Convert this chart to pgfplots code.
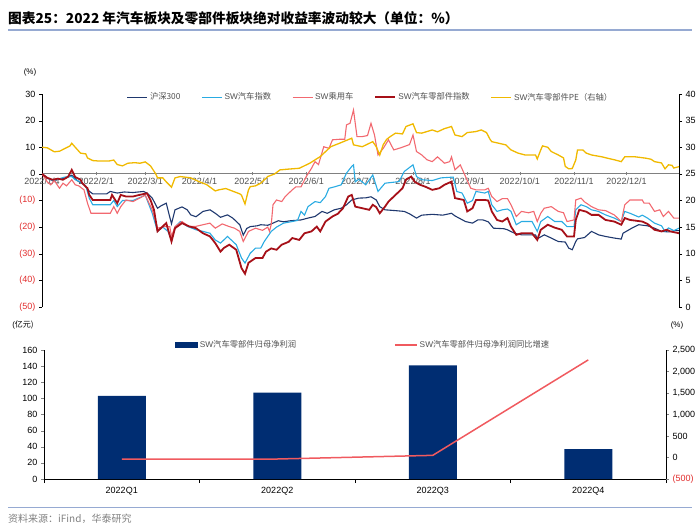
\documentclass[border=0pt]{standalone}
\usepackage{pgfplots}
\pgfplotsset{compat=1.18}
\usepackage{fontspec}
\setmainfont{Liberation Sans}
\newfontfamily\cjk{Noto Sans CJK SC}
\definecolor{hsblue}{RGB}{31,56,110}
\definecolor{autoblue}{RGB}{41,171,226}
\definecolor{carpink}{RGB}{242,105,112}
\definecolor{partred}{RGB}{166,16,24}
\definecolor{peyellow}{RGB}{240,185,0}
\definecolor{barblue}{RGB}{0,45,114}
\definecolor{growred}{RGB}{240,90,95}
\definecolor{negred}{RGB}{225,45,45}
\definecolor{ruleblue}{RGB}{150,170,210}
\definecolor{txtgray}{RGB}{80,80,80}
\newcommand{\lgtxt}[1]{\textcolor{txtgray}{#1}}
\begin{document}
\begin{tikzpicture}[x=1pt,y=1pt]
\path[use as bounding box] (0,0) rectangle (700,530);
% title
\node[anchor=west,inner sep=0pt,font=\fontsize{13.7}{15}\selectfont] at (8,512) {\cjk\bfseries 图表25：2022 年汽车板块及零部件板块绝对收益率波动较大（单位：\%）};
\draw[ruleblue,line width=1.2pt] (8,500) -- (692,500);
% footer
\draw[ruleblue,line width=0.8pt] (8,23) -- (692,23);
\node[anchor=west,inner sep=0pt,font=\fontsize{10}{12}\selectfont,text=gray] at (8,11) {\cjk 资料来源：iFind，华泰研究};
% unit labels
\node[font=\fontsize{8}{9}\selectfont] at (30,458) {(\%)};
\node[font=\fontsize{8}{9}\selectfont] at (23,205) {(\cjk 亿元)};
\node[font=\fontsize{8}{9}\selectfont] at (677,205) {(\%)};

% ---------- top chart ----------
\begin{axis}[at={(42pt,223pt)},anchor=south west,width=637pt,height=213pt,scale only axis,
  xmin=0,xmax=364,ymin=-50,ymax=30,
  axis x line*=middle, axis y line*=left,
  hide obscured x ticks=false, hide obscured y ticks=false,
  x axis line style={gray,line width=0.8pt},
  y axis line style={black,line width=0.6pt},
  xtick={0,31,59,90,120,151,181,212,243,273,304,334},
  xticklabels={2022/1/4,2022/2/1,2022/3/1,2022/4/1,2022/5/1,2022/6/1,2022/7/1,2022/8/1,2022/9/1,2022/10/1,2022/11/1,2022/12/1},
  x tick label style={font=\fontsize{9}{10}\selectfont,text=txtgray,yshift=1pt},
  x tick style={gray}, xtick align=center,
  ytick={-50,-40,-30,-20,-10,0,10,20,30},
  yticklabels={{\color{negred}(50)},{\color{negred}(40)},{\color{negred}(30)},{\color{negred}(20)},{\color{negred}(10)},0,10,20,30},
  y tick label style={font=\fontsize{9}{10}\selectfont},
  ytick align=outside, major tick length=3pt, y tick style={black},
  legend style={at={(0.133,0.985)},anchor=west,draw=none,fill=none,
    font=\fontsize{8.3}{9}\selectfont,inner sep=0pt,
    legend columns=5,/tikz/every even column/.append style={column sep=19pt}},
  legend image code/.code={\draw (0pt,0pt) -- (20pt,0pt);},
]
\addplot[hsblue,line width=1.1pt] coordinates {(0,0) (3,-1.5) (6,-2.5) (10,-2) (14,-1.5) (17,-0.5) (20,-2.5) (24,-4) (27,-6.5) (29,-7.5) (37,-7.5) (39,-6.6) (43,-7.2) (47,-6.8) (52,-7) (58,-6.6) (60,-7.2) (63,-9.1) (66,-12.9) (68,-12) (71,-11) (74,-18.8) (76,-13.5) (80,-12.4) (83,-13.5) (85,-15.4) (88,-16.1) (92,-14.1) (96,-13.5) (99,-14.8) (102,-16.3) (106,-15.4) (109,-16.6) (113,-19.1) (115,-23) (117,-20.5) (119,-19.8) (123,-19.5) (125,-19.1) (129,-19.3) (132,-18.5) (135,-17.6) (138,-18) (142,-17.6) (148,-17.3) (152,-16.6) (156,-16) (160,-14.1) (163,-14.8) (167,-13.5) (171,-12.9) (174,-11.6) (177,-9.8) (181,-9.1) (185,-9) (188,-8.6) (191,-9.8) (193,-12.3) (196,-13.5) (202,-13.8) (207,-14.1) (210,-15) (214,-16.6) (217,-15.5) (223,-15.2) (229,-15.5) (234,-14.8) (236,-15.8) (242,-17.9) (246,-18.5) (249,-17.3) (252,-17.3) (255,-18) (258,-20.4) (264,-20.6) (266,-21) (270,-22.3) (274,-22.9) (282,-22.9) (283,-24.4) (287,-22.9) (291,-24.1) (295,-25.4) (299,-25.6) (301,-27.9) (303,-28.5) (305,-25.4) (306,-24.4) (310,-23.9) (314,-21.6) (318,-22.9) (322,-23.5) (327,-24.1) (331,-24.5) (332,-22.3) (337,-20.4) (341,-19.1) (346,-19.5) (350,-20.4) (354,-21.6) (358,-21.8) (362,-21.3) (364,-21.3)};
\addlegendentry{\lgtxt{\cjk 沪深300}}
\addplot[autoblue,line width=1.1pt] coordinates {(0,0) (3,-1.5) (6,-2.5) (9,-2) (13,-1.2) (17,-1) (19,-2.2) (22,-3) (25,-4.5) (27,-9.1) (29,-11.6) (39,-11.6) (41,-10) (43,-12.3) (46,-10) (52,-10) (59,-8) (63,-14.8) (66,-21.6) (69,-20) (72,-21.6) (74,-24.8) (76,-20) (79,-17.9) (83,-19.7) (88,-21) (92,-21.6) (96,-22.3) (99,-24.8) (102,-26) (106,-23.5) (111,-26.6) (114,-31.6) (116,-33.5) (119,-29.8) (122,-27.9) (125,-27.9) (127,-25.4) (131,-21.6) (134,-20) (138,-18.5) (143,-17.9) (146,-17.5) (148,-14.1) (150,-15.5) (152,-12.3) (156,-10.4) (159,-10.8) (162,-8.5) (164,-5.4) (167,-4.9) (171,-4.1) (174,0.3) (177,2.8) (178,3.4) (179,-3) (181,-2) (185,-4.1) (189,-0.4) (192,-6.6) (196,-3.5) (204,-2.9) (207,0.9) (212,3.4) (214,-1) (217,-2.2) (223,-2.5) (228,-1.5) (235,-1.2) (237,-6.6) (240,-7.2) (243,-11) (246,-10) (248,-6.6) (253,-7.2) (255,-6.6) (257,-11.6) (260,-14.1) (263,-13.5) (266,-13.2) (268,-14.1) (271,-19.1) (274,-17.9) (280,-17.9) (281,-19.1) (283,-21.6) (285,-17.9) (289,-16) (293,-17.9) (297,-17.9) (300,-19.8) (304,-19.8) (305,-13.5) (308,-11.6) (311,-12.3) (314,-13.5) (318,-14.1) (322,-15.4) (327,-16.6) (331,-17.9) (333,-14.1) (336,-14.8) (341,-16.2) (343,-15.5) (346,-16.6) (350,-18.5) (354,-19.5) (356,-21.6) (358,-20.3) (361,-21.3) (364,-20.4)};
\addlegendentry{\lgtxt{SW\cjk 汽车指数}}
\addplot[carpink,line width=1.1pt] coordinates {(0,0) (3,-3) (5,-4.1) (7,-2.5) (10,-5.4) (12,-3.5) (14,-4.5) (17,-2.2) (19,-4.1) (21,-4.5) (24,-6) (26,-11) (28,-14.8) (39,-14.8) (41,-12.3) (43,-14.8) (45,-12.3) (48,-9.8) (52,-10.4) (59,-8) (63,-13.5) (66,-20.4) (70,-19.8) (73,-19.8) (74,-23.5) (76,-19.8) (80,-17.9) (84,-19.8) (88,-19.7) (92,-19.1) (96,-18.5) (99,-20.4) (103,-18.8) (107,-19.8) (110,-20.4) (113,-21.6) (115,-25.4) (118,-21.6) (122,-20.4) (126,-21.2) (129,-20) (130,-21.6) (131,-19) (132,-11.6) (134,-9.8) (137,-10.4) (139,-8.5) (143,-6) (145,-4.9) (148,-4.9) (151,-1) (154,2.1) (156,4.6) (158,3.5) (161,10.2) (164,9.6) (166,12.8) (170,13) (173,13) (174,18.4) (176,19) (178,24) (180,14) (183,14) (186,14.4) (188,19) (190,14.6) (192,7.1) (195,9.6) (198,12.8) (201,9) (205,9.8) (210,11) (212,14.6) (214,8.4) (217,7.1) (220,5.3) (223,4.6) (226,6.4) (230,4) (233,4.6) (234,6.4) (236,1.5) (239,3.4) (242,-1) (245,-5.4) (248,-6) (253,-6) (255,-5.4) (257,-8.5) (260,-10.4) (263,-9.3) (266,-9.3) (268,-11.6) (271,-16) (274,-14.1) (278,-14.6) (281,-14.1) (283,-17.9) (285,-14.8) (287,-12.9) (291,-12.3) (295,-14.1) (298,-14.6) (300,-17.9) (304,-17.3) (305,-9.8) (308,-9.1) (310,-10.5) (314,-12.3) (318,-13.5) (322,-13.8) (327,-15.4) (331,-17.9) (333,-11.6) (336,-9.8) (343,-9.8) (344,-11) (347,-11) (350,-14.1) (353,-13.5) (355,-16) (358,-14.1) (361,-16.6) (364,-16.6)};
\addlegendentry{\lgtxt{SW\cjk 乘用车}}
\addplot[partred,line width=1.8pt] coordinates {(0,0) (3,-1.5) (6,-2.2) (9,-1.8) (12,-2.2) (15,-1) (17,1.5) (19,-1.2) (22,-2.2) (23,-3.5) (26,-5.4) (27,-7.9) (29,-9.8) (39,-9.8) (40,-7.9) (43,-11) (45,-7.9) (48,-8.5) (52,-8.5) (55,-8) (60,-7.3) (62,-9.8) (64,-13.5) (66,-21.6) (69,-19.7) (71,-18.5) (74,-25.4) (76,-20.4) (80,-18.5) (84,-19.7) (88,-20.4) (92,-22.3) (96,-23.5) (99,-26) (102,-29.2) (104,-27.8) (107,-26.6) (111,-28.5) (114,-35.4) (116,-37.5) (118,-33.4) (122,-31.6) (126,-31.6) (128,-29.2) (131,-28) (134,-28.5) (137,-26.6) (141,-25.5) (143,-24.1) (147,-24.8) (150,-22.3) (154,-21.6) (157,-19.8) (159,-21.6) (162,-17.9) (166,-16) (169,-15) (172,-12.9) (175,-8.5) (177,-7.9) (179,-12.3) (183,-12.9) (187,-13.5) (189,-11.6) (191,-12.5) (193,-14.8) (196,-12.3) (198,-10.4) (202,-7.9) (206,-5.4) (208,-2.2) (211,-1) (213,-3) (216,-4.1) (219,-4.8) (223,-6) (227,-5.4) (230,-4.1) (234,-2.9) (236,-9.1) (241,-9.8) (243,-14.1) (246,-12.9) (248,-9.8) (253,-9.8) (255,-10) (257,-14.1) (260,-17.3) (263,-17.9) (266,-16.6) (268,-19.8) (271,-22.9) (274,-22.3) (280,-22.3) (283,-24.8) (285,-21) (289,-19.1) (293,-20.2) (297,-21) (300,-23.5) (304,-23.5) (305,-17.3) (307,-13.5) (311,-14.2) (314,-15.4) (318,-15.4) (322,-17.3) (327,-17.9) (331,-19.1) (333,-16.6) (336,-17.3) (343,-17.9) (346,-18.8) (350,-21) (354,-21.6) (357,-21) (359,-21.6) (364,-22.3)};
\addlegendentry{\lgtxt{SW\cjk 汽车零部件指数}}
\addlegendimage{peyellow,line width=1.3pt}
\addlegendentry{\lgtxt{SW\cjk 汽车零部件PE（右轴）}}
\end{axis}
\begin{axis}[at={(42pt,223pt)},anchor=south west,width=637pt,height=213pt,scale only axis,
  xmin=0,xmax=364,ymin=0,ymax=40,
  axis x line=none, axis y line*=right,
  y axis line style={black,line width=0.6pt},
  ytick={0,5,10,15,20,25,30,35,40},
  yticklabels={0,5,10,15,20,25,30,35,40},
  y tick label style={font=\fontsize{9}{10}\selectfont},
  ytick align=outside, major tick length=3pt, y tick style={black},
]
\addplot[peyellow,line width=1.3pt] coordinates {(0,30) (3,29.9) (7,29.15) (10,29.25) (13,29.75) (16,30.25) (17,30.75) (19,30) (22,28.9) (25,28.75) (26,28) (29,27.5) (33,27.4) (38,27.4) (41,27.6) (43,26.75) (46,26.5) (49,27) (53,27.1) (56,27) (59,27.25) (62,26.5) (65,25) (66,24.25) (69,24.25) (71,23.5) (74,22.5) (76,24.25) (79,24.5) (85,24.25) (90,23.5) (94,23) (99,21.8) (101,22) (105,22.25) (109,21.75) (113,21.25) (114,21) (116,19.35) (118,22) (119,22.6) (122,22.75) (125,23.25) (129,24.5) (133,25) (136,25.75) (141,25.9) (147,26.05) (153,27) (159,28.25) (165,30.1) (170,30.75) (177,31.7) (178,30.45) (183,30.1) (189,31.05) (191,30.1) (193,28.55) (195,30.5) (197,31.5) (199,32) (202,32.65) (206,32.5) (208,33.9) (212,34.4) (214,32.75) (217,32.65) (223,33.25) (226,32.9) (230,33.5) (234,33.9) (236,32.3) (240,32) (243,32.75) (248,32.95) (251,33.25) (254,32.75) (256,31.5) (257,31.05) (261,30.75) (265,30.45) (268,29.5) (272,28.9) (276,28.55) (282,28.55) (283,27.8) (285,29.5) (286,30.25) (289,30) (291,29.2) (295,28.55) (298,28) (299,26.4) (301,25.95) (303,26) (305,27.6) (306,29.5) (309,29.5) (311,28.9) (314,28.55) (320,28.2) (323,27.95) (327,27.65) (331,27.3) (333,28.2) (339,28.2) (345,27.95) (348,27.75) (350,27.3) (354,27.05) (356,25.95) (358,26.7) (360,26.6) (361,26.1) (364,26.35)};
\end{axis}

% ---------- bottom chart ----------
\begin{axis}[at={(44pt,51pt)},anchor=south west,width=622pt,height=129pt,scale only axis,
  xmin=-0.5,xmax=3.5,ymin=0,ymax=160,
  axis x line*=bottom, axis y line*=left,
  axis line style={black,line width=0.6pt},
  xtick={0,1,2,3}, xticklabels={2022Q1,2022Q2,2022Q3,2022Q4},
  x tick label style={font=\fontsize{9}{10}\selectfont,yshift=-2pt},
  major x tick style={draw=none},
  extra x ticks={-0.5,0.5,1.5,2.5,3.5}, extra x tick labels={},
  extra x tick style={major tick length=4pt,tick align=outside,major x tick style={draw=black}},
  ytick={0,20,40,60,80,100,120,140,160},
  yticklabels={0,20,40,60,80,100,120,140,160},
  y tick label style={font=\fontsize{9}{10}\selectfont},
  ytick align=outside, major tick length=3pt,
  ybar, bar width=48pt,
]
\addplot[fill=barblue,draw=none] coordinates {(0,103) (1,107) (2,141) (3,37)};
\end{axis}
\begin{axis}[at={(44pt,51pt)},anchor=south west,width=622pt,height=129pt,scale only axis,
  xmin=-0.5,xmax=3.5,ymin=-500,ymax=2500,
  axis x line=none, axis y line*=right,
  y axis line style={black,line width=0.6pt},
  ytick={-500,0,500,1000,1500,2000,2500},
  yticklabels={{\color{negred}(500)},0,500,{1,000},{1,500},{2,000},{2,500}},
  y tick label style={font=\fontsize{9}{10}\selectfont},
  ytick align=outside, major tick length=3pt,
  legend style={at={(0.211,1.04)},anchor=west,draw=none,fill=none,
    font=\fontsize{8.3}{9}\selectfont,inner sep=0pt,
    legend columns=2,/tikz/every even column/.append style={column sep=96pt}},
  legend image code/.code={\draw (0pt,0pt) -- (22pt,0pt);},
]
\addlegendimage{legend image code/.code={\fill[barblue] (0pt,-2.5pt) rectangle (22pt,2.5pt);}}
\addlegendentry{\lgtxt{SW\cjk 汽车零部件归母净利润}}
\addplot[growred,line width=1.5pt] coordinates {(0,-40) (1,-35) (2,50) (3,2270)};
\addlegendentry{\lgtxt{SW\cjk 汽车零部件归母净利润同比增速}}
\end{axis}
\end{tikzpicture}
\end{document}
